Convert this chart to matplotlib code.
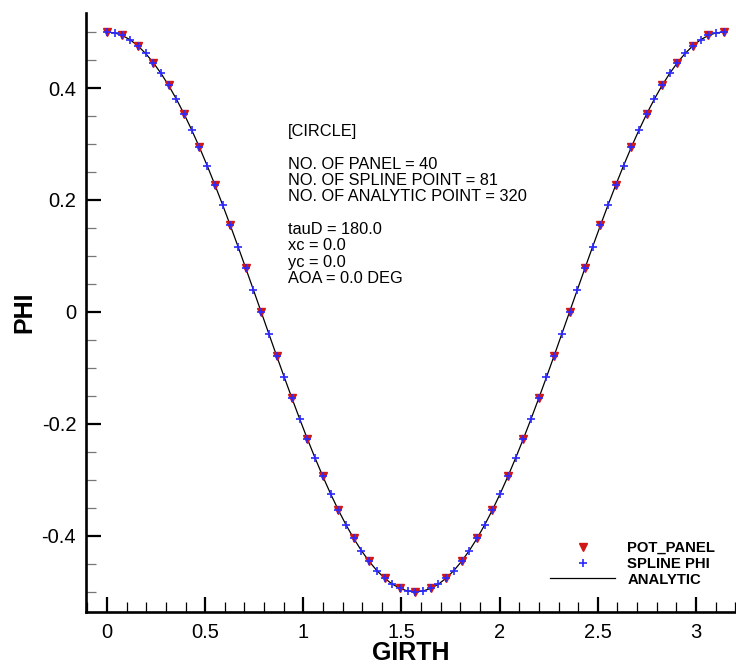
import matplotlib
matplotlib.use("Agg")
import matplotlib.pyplot as plt
from matplotlib.ticker import MultipleLocator

plt.rcParams['font.family'] = ['Liberation Sans', 'DejaVu Sans']

# POT_PANEL (41 nodes of the 40 panels)
panel_girth = [0.0, 0.0785, 0.1571, 0.2356, 0.3142, 0.3927, 0.4712, 0.5498, 0.6283, 0.7069,
               0.7854, 0.8639, 0.9425, 1.0210, 1.0996, 1.1781, 1.2566, 1.3352, 1.4137, 1.4923,
               1.5708, 1.6493, 1.7279, 1.8064, 1.8850, 1.9635, 2.0420, 2.1206, 2.1991, 2.2777,
               2.3562, 2.4347, 2.5133, 2.5918, 2.6704, 2.7489, 2.8274, 2.9060, 2.9845, 3.0631,
               3.1416]
panel_phi = [0.5, 0.4938, 0.4755, 0.4455, 0.4045, 0.3536, 0.2939, 0.2270, 0.1545, 0.0782,
             0.0, -0.0782, -0.1545, -0.2270, -0.2939, -0.3536, -0.4045, -0.4455, -0.4755, -0.4938,
             -0.5, -0.4938, -0.4755, -0.4455, -0.4045, -0.3536, -0.2939, -0.2270, -0.1545, -0.0782,
             0.0, 0.0782, 0.1545, 0.2270, 0.2939, 0.3536, 0.4045, 0.4455, 0.4755, 0.4938,
             0.5]

# SPLINE PHI (81 points)
spline_girth = [0.0, 0.0393, 0.0785, 0.1178, 0.1571, 0.1963, 0.2356, 0.2749, 0.3142, 0.3534,
                0.3927, 0.4320, 0.4712, 0.5105, 0.5498, 0.5890, 0.6283, 0.6676, 0.7069, 0.7461,
                0.7854, 0.8247, 0.8639, 0.9032, 0.9425, 0.9817, 1.0210, 1.0603, 1.0996, 1.1388,
                1.1781, 1.2174, 1.2566, 1.2959, 1.3352, 1.3744, 1.4137, 1.4530, 1.4923, 1.5315,
                1.5708, 1.6101, 1.6493, 1.6886, 1.7279, 1.7671, 1.8064, 1.8457, 1.8850, 1.9242,
                1.9635, 2.0028, 2.0420, 2.0813, 2.1206, 2.1598, 2.1991, 2.2384, 2.2777, 2.3169,
                2.3562, 2.3955, 2.4347, 2.4740, 2.5133, 2.5525, 2.5918, 2.6311, 2.6704, 2.7096,
                2.7489, 2.7882, 2.8274, 2.8667, 2.9060, 2.9452, 2.9845, 3.0238, 3.0631, 3.1023,
                3.1416]
spline_phi = [0.5, 0.4985, 0.4938, 0.4862, 0.4755, 0.4619, 0.4455, 0.4263, 0.4045, 0.3802,
              0.3536, 0.3247, 0.2939, 0.2612, 0.2270, 0.1913, 0.1545, 0.1167, 0.0782, 0.0392,
              0.0, -0.0392, -0.0782, -0.1167, -0.1545, -0.1913, -0.2270, -0.2612, -0.2939, -0.3247,
              -0.3536, -0.3802, -0.4045, -0.4263, -0.4455, -0.4619, -0.4755, -0.4862, -0.4938, -0.4985,
              -0.5, -0.4985, -0.4938, -0.4862, -0.4755, -0.4619, -0.4455, -0.4263, -0.4045, -0.3802,
              -0.3536, -0.3247, -0.2939, -0.2612, -0.2270, -0.1913, -0.1545, -0.1167, -0.0782, -0.0392,
              0.0, 0.0392, 0.0782, 0.1167, 0.1545, 0.1913, 0.2270, 0.2612, 0.2939, 0.3247,
              0.3536, 0.3802, 0.4045, 0.4263, 0.4455, 0.4619, 0.4755, 0.4862, 0.4938, 0.4985,
              0.5]

# ANALYTIC curve, read at the same girth stations
analytic_girth = spline_girth
analytic_phi = spline_phi

info_text = ("[CIRCLE]\n\n"
             "NO. OF PANEL = 40\n"
             "NO. OF SPLINE POINT = 81\n"
             "NO. OF ANALYTIC POINT = 320\n\n"
             "tauD = 180.0\n"
             "xc = 0.0\n"
             "yc = 0.0\n"
             "AOA = 0.0 DEG")

fig = plt.figure(figsize=(7.36, 6.66), dpi=100)
ax = fig.add_axes([0.1168, 0.0811, 0.8832, 0.8994])

ax.plot(analytic_girth, analytic_phi, color='black', lw=0.9, label='ANALYTIC', zorder=1)
ax.plot(panel_girth, panel_phi, 'v', color='#d01818', ms=6, ls='none', label='POT_PANEL', zorder=2)
ax.plot(spline_girth, spline_phi, '+', color='#2a2aff', ms=6, mew=1.2, ls='none',
        label='SPLINE PHI', zorder=3)

ax.set_xlim(-0.107, 3.204)
ax.set_ylim(-0.536, 0.534)

for s in ['top', 'right']:
    ax.spines[s].set_visible(False)
for s in ['left', 'bottom']:
    ax.spines[s].set_linewidth(1.9)

ax.xaxis.set_major_locator(MultipleLocator(0.5))
ax.xaxis.set_minor_locator(MultipleLocator(0.1))
ax.yaxis.set_major_locator(MultipleLocator(0.2))
ax.yaxis.set_minor_locator(MultipleLocator(0.05))
ax.xaxis.set_major_formatter(plt.FuncFormatter(lambda v, p: f"{v:g}"))
ax.yaxis.set_major_formatter(plt.FuncFormatter(lambda v, p: f"{v:g}"))

ax.tick_params(which='major', direction='in', length=11, width=1.6, labelsize=14.5)
ax.tick_params(axis='y', which='major', pad=7)
ax.tick_params(axis='x', which='major', pad=8)
ax.tick_params(which='minor', direction='in', length=7, width=0.9)
ax.tick_params(axis='y', which='minor', color='#777777')

ax.set_xlabel('GIRTH', fontsize=18, fontweight='bold', labelpad=-1)
ax.set_ylabel('PHI', fontsize=18, fontweight='bold', labelpad=4)

ax.text(288 / 736, 1 - 124 / 666, info_text, transform=fig.transFigure,
        fontsize=11.8, va='top', ha='left', linespacing=1.11)

handles, labels = ax.get_legend_handles_labels()
order = [1, 2, 0]
leg = ax.legend([handles[i] for i in order], [labels[i] for i in order],
                loc='upper left', bbox_to_anchor=(550 / 736, 1 - 541 / 666),
                bbox_transform=fig.transFigure, frameon=False, borderpad=0,
                borderaxespad=0, handlelength=4.4, handletextpad=0.8,
                labelspacing=0.12, prop={'weight': 'bold', 'size': 10.7})

fig.savefig('out.png', dpi=100)
